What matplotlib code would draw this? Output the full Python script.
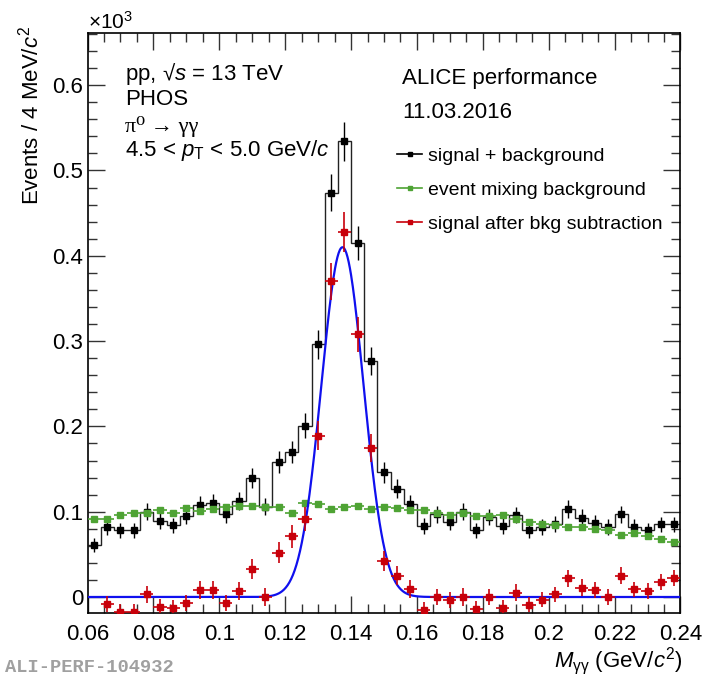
import numpy as np
import matplotlib
matplotlib.use('Agg')
import matplotlib.pyplot as plt
from matplotlib.lines import Line2D
from matplotlib.ticker import MultipleLocator, FuncFormatter

plt.rcParams['font.family'] = ['Liberation Sans', 'DejaVu Sans']
plt.rcParams['mathtext.fontset'] = 'custom'
plt.rcParams['mathtext.rm'] = 'Liberation Sans'
plt.rcParams['mathtext.it'] = 'Liberation Sans:italic'
plt.rcParams['mathtext.bf'] = 'Liberation Sans:bold'

# binning: 4 MeV bins from 0.06 to 0.24 GeV/c^2
x_lo, x_hi, bin_w = 0.06, 0.24, 0.004
edges = np.linspace(x_lo, x_hi, 46)
centers = 0.5 * (edges[:-1] + edges[1:])

# events / 4 MeV (x10^3)
sig_bkg = [0.061, 0.082, 0.078, 0.078, 0.100, 0.089, 0.084, 0.095, 0.108, 0.110,
           0.097, 0.113, 0.139, 0.106, 0.158, 0.170, 0.201, 0.296, 0.474, 0.534,
           0.415, 0.277, 0.146, 0.127, 0.109, 0.083, 0.097, 0.088, 0.100, 0.078,
           0.094, 0.083, 0.096, 0.078, 0.082, 0.086, 0.103, 0.093, 0.087, 0.082,
           0.097, 0.082, 0.078, 0.085, 0.085]
mix_bkg = [0.092, 0.092, 0.096, 0.098, 0.098, 0.102, 0.099, 0.104, 0.101, 0.103,
           0.105, 0.107, 0.107, 0.106, 0.106, 0.099, 0.110, 0.109, 0.103, 0.106,
           0.107, 0.103, 0.105, 0.104, 0.102, 0.102, 0.098, 0.096, 0.098, 0.095,
           0.095, 0.096, 0.091, 0.088, 0.086, 0.084, 0.082, 0.082, 0.080, 0.079,
           0.073, 0.075, 0.072, 0.068, 0.064]
sig_sub = [-0.031, -0.008, -0.017, -0.017, 0.003, -0.012, -0.013, -0.007, 0.008, 0.008,
           -0.007, 0.007, 0.033, 0.000, 0.052, 0.071, 0.091, 0.189, 0.370, 0.428,
           0.308, 0.175, 0.042, 0.025, 0.009, -0.015, 0.000, -0.004, 0.000, -0.014,
           0.000, -0.013, 0.005, -0.009, -0.003, 0.003, 0.022, 0.011, 0.008, 0.000,
           0.025, 0.009, 0.007, 0.018, 0.022]
mix_err = 0.002

# gaussian fit of the peak
fit_amp, fit_mean, fit_sigma = 0.41, 0.1374, 0.0064

sig_bkg = np.array(sig_bkg)
sig_sub = np.array(sig_sub)
# poisson errors from the raw counts
sb_err = np.sqrt(sig_bkg * 1000) / 1000

c_black = 'black'
c_green = '#4ea334'
c_red = '#c8000a'
c_blue = '#1010ee'

fig = plt.figure(figsize=(7.04, 6.79), dpi=100)
ax = fig.add_axes([0.1243, 0.0979, 0.8423, 0.8528])

ax.stairs(sig_bkg, edges, baseline=None, color='#222222', lw=1.0, zorder=2)
ax.errorbar(centers, sig_bkg, yerr=sb_err, fmt='s', color=c_black, ms=4.8,
            elinewidth=1.0, capsize=0, zorder=2.5)
ax.errorbar(centers, mix_bkg, xerr=bin_w / 2, yerr=mix_err, fmt='s', color=c_green,
            ms=4.3, elinewidth=1.2, capsize=0, zorder=3)

xf = np.linspace(x_lo, x_hi, 1000)
ax.plot(xf, fit_amp * np.exp(-0.5 * ((xf - fit_mean) / fit_sigma) ** 2),
        color=c_blue, lw=1.6, zorder=3.5)

ax.errorbar(centers, sig_sub, xerr=bin_w / 2, yerr=sb_err, fmt='s', color=c_red,
            ms=5, elinewidth=1.2, capsize=0, zorder=4)

ax.set_xlim(x_lo, x_hi)
ax.set_ylim(-0.0182, 0.6606)
ax.xaxis.set_major_locator(MultipleLocator(0.02))
ax.xaxis.set_minor_locator(MultipleLocator(0.005))
ax.yaxis.set_major_locator(MultipleLocator(0.1))
ax.yaxis.set_minor_locator(MultipleLocator(0.02))
fmt = FuncFormatter(lambda v, p: '%g' % round(v, 4))
ax.xaxis.set_major_formatter(fmt)
ax.yaxis.set_major_formatter(fmt)
ax.tick_params(which='both', direction='in', top=True, right=True, width=1.0, color='#333333')
ax.tick_params(which='major', length=12.5, labelsize=16)
ax.tick_params(which='minor', length=6.5)
ax.tick_params(axis='x', pad=8)
ax.tick_params(axis='y', pad=3)
for s in ax.spines.values():
    s.set_linewidth(1.2)

# axis titles, ROOT style
fig.text(0.125, 0.968, r'$\times$10$^{3}$', fontsize=15, ha='left', va='center')
fig.text(0.043, 0.962, r'Events / 4 MeV/$c^{2}$', fontsize=16, rotation=90,
         ha='center', va='top')
fig.text(0.969, 0.027, r'$M_{\mathrm{\gamma\gamma}}$ (GeV/$c^{2}$)', fontsize=16,
         ha='right', va='center')

fig.text(0.1776, 0.891, 'pp, √$s$ = 13 TeV', fontsize=16, ha='left', va='center')
fig.text(0.1776, 0.854, 'PHOS', fontsize=16, ha='left', va='center')
fig.text(0.1776, 0.813, 'π⁰ → γγ', fontsize=16, ha='left', va='center',
         family=['Liberation Serif', 'DejaVu Serif'])
fig.text(0.1776, 0.779, r'4.5 < $p_{\mathrm{T}}$ < 5.0 GeV/$c$', fontsize=16,
         ha='left', va='center')
fig.text(0.571, 0.884, 'ALICE performance', fontsize=16, ha='left', va='center')
fig.text(0.571, 0.835, '11.03.2016', fontsize=16, ha='left', va='center')

handles = [Line2D([], [], color=c_black, marker='s', ms=3.5, lw=1.2),
           Line2D([], [], color=c_green, marker='s', ms=3.5, lw=1.2),
           Line2D([], [], color=c_red, marker='s', ms=3.5, lw=1.2)]
labels = ['signal + background', 'event mixing background', 'signal after bkg subtraction']
ax.legend(handles, labels, loc='upper left', bbox_to_anchor=(0.564, 0.7836),
          bbox_transform=fig.transFigure, frameon=False, fontsize=14,
          borderpad=0, borderaxespad=0, handlelength=1.3, handletextpad=0.3,
          labelspacing=0.86)

fig.text(0.007, 0.017, 'ALI-PERF-104932', fontsize=13.5, color='#a0a0a0',
         family='Liberation Mono', fontweight='bold', ha='left', va='center')

fig.savefig('out.png', dpi=100)
